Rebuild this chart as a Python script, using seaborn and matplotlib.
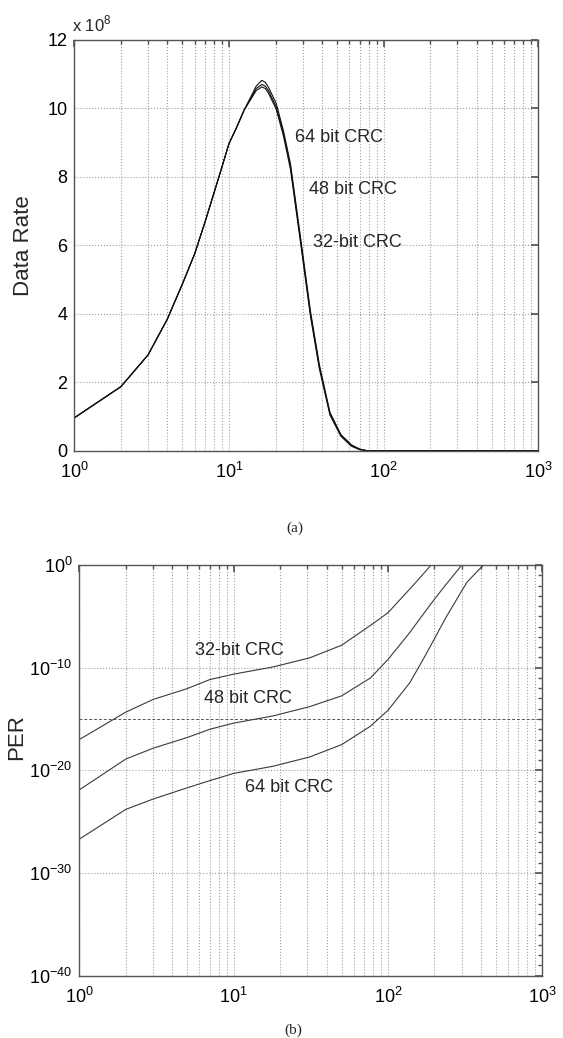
import matplotlib

matplotlib.use("Agg")
import matplotlib.pyplot as plt
import matplotlib.ticker as mticker
import numpy as np
import pandas as pd
import seaborn as sns

# (a) data rate vs x (values in units of 1e8)
rate_x = [1, 2, 3, 4, 5, 6, 7, 8.6, 10, 11.25, 12.5, 14, 15, 16.3, 17.2, 18, 20.2, 22.5, 25,
          29.4, 33.6, 38.4, 45, 53, 62, 70, 78, 100, 200, 500, 1000]
rate_32 = [0.96, 1.87, 2.8, 3.85, 4.87, 5.75, 6.68, 7.99, 8.97, 9.46, 9.94, 10.38, 10.65, 10.82,
           10.76, 10.62, 10.15, 9.35, 8.38, 6.05, 4.1, 2.52, 1.12, 0.47, 0.17, 0.05, 0, 0, 0, 0, 0]
rate_48 = [0.96, 1.87, 2.8, 3.85, 4.87, 5.75, 6.68, 7.99, 8.97, 9.46, 9.94, 10.34, 10.58, 10.7,
           10.65, 10.52, 10.05, 9.27, 8.3, 5.97, 4.02, 2.46, 1.08, 0.44, 0.15, 0.04, 0, 0, 0, 0, 0]
rate_64 = [0.96, 1.87, 2.8, 3.85, 4.87, 5.75, 6.68, 7.99, 8.97, 9.46, 9.94, 10.3, 10.52, 10.63,
           10.58, 10.45, 9.98, 9.2, 8.22, 5.9, 3.95, 2.4, 1.04, 0.42, 0.13, 0.03, 0, 0, 0, 0, 0]

# (b) packet error rate, stored as log10(PER)
per_x = [1, 2, 3, 5, 7, 10, 18, 31, 50, 77, 100, 138, 171, 190, 236, 301, 326, 415, 1000]
per_32_exp = [-17.0, -14.33, -13.1, -12.04, -11.16, -10.63, -9.93, -9.05, -7.82, -5.88,
              -4.65, -2.36, -0.8, 0, 0, 0, 0, 0, 0]
per_48_exp = [-21.9, -18.9, -17.85, -16.8, -16.0, -15.4, -14.7, -13.8, -12.75, -11.0,
              -9.2, -6.6, -4.7, -3.77, -1.95, 0, 0, 0, 0]
per_64_exp = [-26.7, -23.8, -22.8, -21.7, -21.0, -20.3, -19.6, -18.7, -17.5, -15.7,
              -14.15, -11.5, -9.05, -7.8, -5.18, -2.5, -1.65, 0, 0]
per_threshold = 1e-15

labels = ["32-bit CRC", "48 bit CRC", "64 bit CRC"]

rate_df = pd.concat([
    pd.DataFrame({"x": rate_x, "y": vals, "crc": lab})
    for lab, vals in zip(labels, [rate_32, rate_48, rate_64])
])
per_df = pd.concat([
    pd.DataFrame({"x": per_x, "y": 10.0 ** np.array(vals), "crc": lab})
    for lab, vals in zip(labels, [per_32_exp, per_48_exp, per_64_exp])
])

sns.set_theme(style="white")
plt.rcParams["font.family"] = ["Liberation Sans", "DejaVu Sans"]
plt.rcParams["mathtext.fontset"] = "custom"
plt.rcParams["mathtext.rm"] = "Liberation Sans"

fig = plt.figure(figsize=(5.63, 10.38), dpi=100)
ax1 = fig.add_axes([0.132, 0.5658, 0.824, 0.3957])
ax2 = fig.add_axes([0.1409, 0.060, 0.8224, 0.3957])

grid_kw = dict(color="#a0a0a0", linestyle=":", linewidth=0.8)


def style_axes(ax):
    for sp in ax.spines.values():
        sp.set_color("#555555")
        sp.set_linewidth(1.0)
    ax.tick_params(which="both", direction="in", top=True, right=True,
                   colors="#555555", labelcolor="black", labelsize=13, pad=5)
    ax.tick_params(axis="x", which="major", pad=8)
    ax.tick_params(which="major", length=5)
    ax.tick_params(which="minor", length=3)
    ax.set_xscale("log")
    ax.set_xlim(1, 1000)
    ax.xaxis.set_major_locator(mticker.LogLocator(base=10))
    ax.xaxis.set_minor_locator(mticker.LogLocator(base=10, subs=np.arange(2, 10)))
    ax.xaxis.set_minor_formatter(mticker.NullFormatter())
    ax.set_axisbelow(True)
    ax.grid(True, which="major", **grid_kw)
    ax.grid(True, which="minor", axis="x", **grid_kw)
    ax.set_xlabel("")


# (a)
sns.lineplot(data=rate_df, x="x", y="y", hue="crc", palette=["#111111"] * 3,
             estimator=None, sort=False, legend=False, linewidth=0.8, ax=ax1)
style_axes(ax1)
ax1.set_ylim(0, 12)
ax1.set_yticks(range(0, 13, 2))
ax1.set_ylabel("Data Rate", fontsize=16)
ax1.yaxis.set_label_coords(-0.087, 0.5)
ax1.text(-0.005, 1.02, r"x 10$^{8}$", transform=ax1.transAxes, fontsize=12,
         ha="left", va="baseline")
ax1.text(26.7, 9.14, "64 bit CRC", fontsize=13, va="center", ha="left")
ax1.text(32.9, 7.62, "48 bit CRC", fontsize=13, va="center", ha="left")
ax1.text(35.1, 6.07, "32-bit CRC", fontsize=13, va="center", ha="left")

# (b)
sns.lineplot(data=per_df, x="x", y="y", hue="crc", palette=["#3a3a3a"] * 3,
             estimator=None, sort=False, legend=False, linewidth=0.8, ax=ax2)
style_axes(ax2)
ax2.set_yscale("log")
ax2.set_ylim(1e-40, 1)
ax2.yaxis.set_major_locator(mticker.FixedLocator([1e-40, 1e-30, 1e-20, 1e-10, 1e0]))
ax2.yaxis.set_minor_locator(mticker.FixedLocator([10.0 ** -k for k in range(1, 40)]))
ax2.yaxis.set_major_formatter(mticker.LogFormatterSciNotation())
ax2.yaxis.set_minor_formatter(mticker.NullFormatter())
ax2.axhline(per_threshold, color="#555555", linestyle="--", linewidth=0.7, dashes=(3, 2))
ax2.set_ylabel("PER", fontsize=16)
ax2.yaxis.set_label_coords(-0.113, 0.58)
ax2.text(10.9, 10 ** -8.37, "32-bit CRC", fontsize=13, va="center", ha="center")
ax2.text(12.3, 10 ** -13.04, "48 bit CRC", fontsize=13, va="center", ha="center")
ax2.text(22.9, 10 ** -21.7, "64 bit CRC", fontsize=13, va="center", ha="center")

fig.text(295 / 563, 1 - 528 / 1038, "(a)", family=["Liberation Serif"], fontsize=11,
         ha="center", va="center")
fig.text(293 / 563, 1 - 1030 / 1038, "(b)", family=["Liberation Serif"], fontsize=11,
         ha="center", va="center")

fig.savefig("out.png", dpi=100)
plt.close(fig)
